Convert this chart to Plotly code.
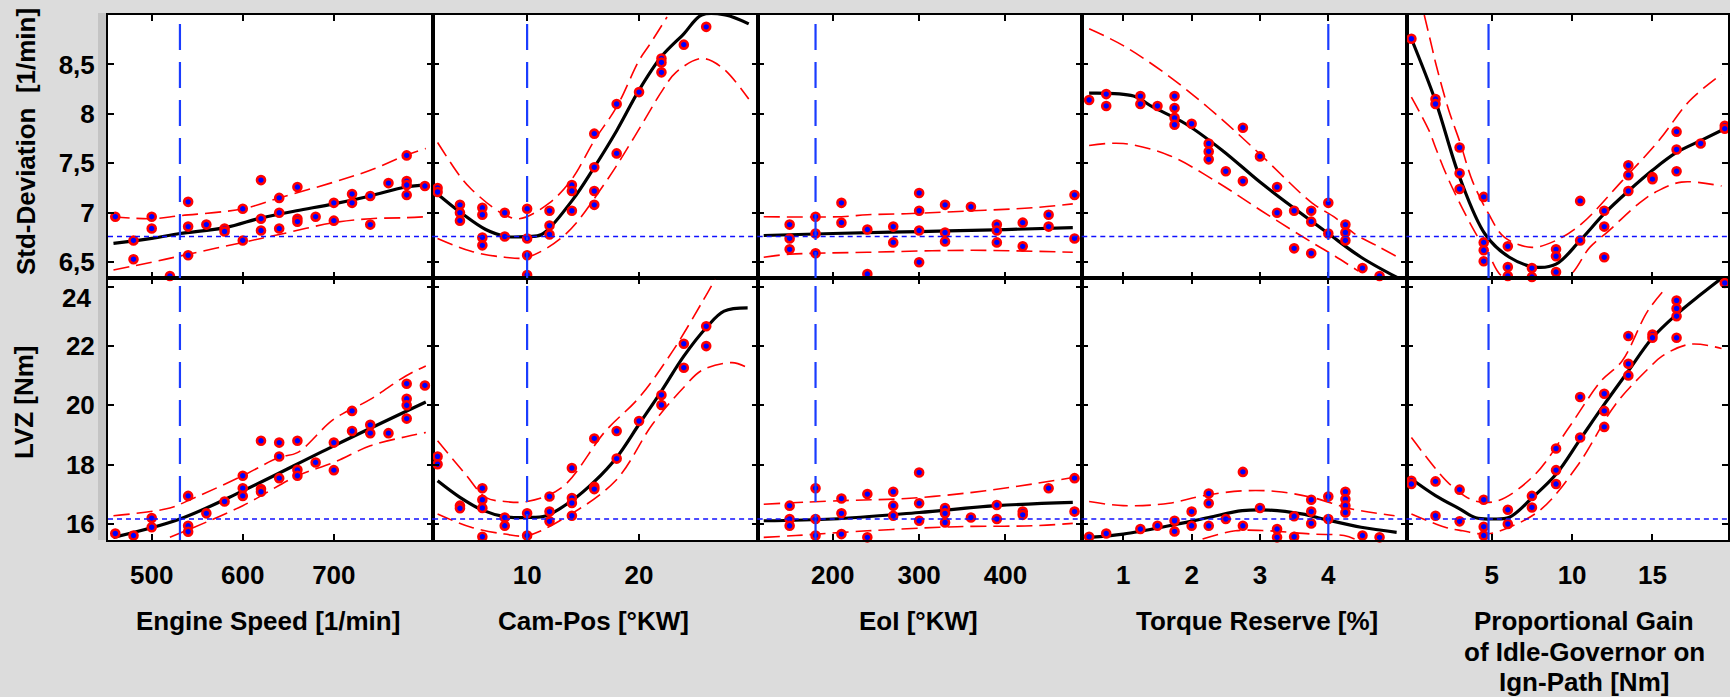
import plotly.graph_objects as go

# ---------------- data ----------------
# Column 1: Engine Speed [1/min]
speed_std_x = [460,480,480,500,500,520,540,540,540,560,580,580,600,600,620,620,620,640,640,640,660,660,660,680,700,700,720,720,740,740,760,780,780,780,780,800]
speed_std_y = [6.96,6.72,6.53,6.96,6.84,6.36,7.11,6.86,6.57,6.88,6.84,6.81,7.04,6.72,7.33,6.94,6.82,7.15,7.0,6.84,7.26,6.94,6.91,6.96,7.10,6.92,7.19,7.10,7.17,6.88,7.30,7.58,7.32,7.28,7.18,7.27]
speed_std_fit_x = [458,500,531,581,621,659,700,740,779,801]
speed_std_fit_y = [6.69,6.74,6.79,6.85,6.95,7.02,7.09,7.17,7.26,7.28]
speed_std_up_x = [458,500,531,600,640,700,740,779,801]
speed_std_up_y = [6.96,6.94,6.97,7.04,7.15,7.31,7.43,7.58,7.65]
speed_std_lo_x = [458,500,540,600,640,700,740,779,801]
speed_std_lo_y = [6.42,6.50,6.58,6.70,6.78,6.90,6.94,6.95,6.96]

speed_lvz_x = [460,480,500,500,540,540,540,560,580,600,600,600,620,620,620,640,640,640,660,660,660,680,700,700,720,720,740,740,760,780,780,780,780,800]
speed_lvz_y = [15.67,15.6,16.19,15.88,16.94,15.93,15.73,16.35,16.75,17.62,17.2,16.94,18.8,17.17,17.08,18.74,18.27,17.54,18.8,17.82,17.62,18.07,18.74,17.81,19.81,19.13,19.34,19.06,19.06,20.73,20.22,20.0,19.55,20.67]
speed_lvz_fit_x = [458,531,600,700,801]
speed_lvz_fit_y = [15.54,16.16,17.11,18.63,20.11]
speed_lvz_up_x = [458,520,540,600,640,660,700,740,779,801]
speed_lvz_up_y = [16.27,16.53,16.78,17.62,18.24,18.4,19.53,20.2,20.99,21.33]
speed_lvz_lo_x = [520,600,660,700,740,779,801]
speed_lvz_lo_y = [15.54,16.61,17.62,18.07,18.63,18.94,19.08]

# Column 2: Cam-Pos [°KW]
cam_std_x = [2,2,4,4,4,6,6,6,6,8,8,10,10,10,10,12,12,12,14,14,14,16,16,16,16,18,18,20,22,22,22,24,26]
cam_std_y = [7.25,7.21,7.08,7.0,6.92,7.05,6.98,6.75,6.67,7.0,6.76,7.04,6.74,6.57,6.37,7.02,6.87,6.78,7.28,7.22,7.02,7.80,7.46,7.22,7.08,8.10,7.6,8.22,8.56,8.52,8.42,8.70,8.88]
cam_std_fit_x = [2.1,4.2,6.3,8.1,10,11.3,14,16,18,20,22,24,25.6,27.7,29.8]
cam_std_fit_y = [7.18,6.99,6.83,6.76,6.76,6.78,7.12,7.46,7.83,8.24,8.58,8.81,9.0,9.0,8.91]
cam_std_up_x = [2,4,5,7.8,9.3,12,14,16,18,20,21,22.5]
cam_std_up_y = [7.71,7.37,7.24,6.99,6.94,7.10,7.34,7.73,8.07,8.54,8.71,8.98]
cam_std_lo_x = [2,5,8,10,13.4,16.9,19.6,22.1,23.3,25.6,27.4,29.8]
cam_std_lo_y = [6.74,6.61,6.55,6.55,6.78,7.29,7.77,8.24,8.42,8.56,8.47,8.15]

cam_lvz_x = [2,2,4,4,6,6,6,6,8,8,10,10,12,12,12,14,14,14,14,16,16,16,18,18,20,22,22,24,24,26,26]
cam_lvz_y = [18.27,18.01,16.61,16.52,17.2,16.81,16.53,15.56,16.21,15.93,16.35,15.6,16.92,16.41,16.08,17.88,16.87,16.7,16.27,18.88,17.25,17.17,19.13,18.2,19.47,20.35,20.01,22.08,21.27,22.67,22.0]
cam_lvz_fit_x = [2,4,6,8,10,11.7,14,16,18,20,22,24,26,27.6,29.7]
cam_lvz_fit_y = [17.45,16.89,16.46,16.24,16.21,16.27,16.78,17.42,18.24,19.36,20.48,21.66,22.62,23.18,23.29]
cam_lvz_up_x = [2,4.5,6.3,8,10,13.1,17,20,23,25.6,26.8]
cam_lvz_up_y = [18.8,17.67,16.89,16.75,16.75,17.22,19.13,20.26,21.83,23.46,24.26]
cam_lvz_lo_x = [2,5,8,10,13.4,17.9,21.2,24.1,25.6,28.3,29.7]
cam_lvz_lo_y = [16.33,15.88,15.65,15.6,16.21,17.45,19.36,20.65,21.18,21.44,21.27]

# Column 3: EoI [°KW]
eoi_std_x = [150,150,150,180,180,180,210,210,240,240,270,270,300,300,300,300,330,330,330,360,390,390,390,420,420,450,450,480,480]
eoi_std_y = [6.88,6.74,6.63,6.96,6.79,6.59,7.10,6.9,6.83,6.38,6.86,6.70,7.2,7.02,6.82,6.5,7.08,6.8,6.71,7.06,6.88,6.82,6.70,6.90,6.66,6.98,6.86,7.18,6.74]
eoi_std_fit_x = [120,200,300,400,478]
eoi_std_fit_y = [6.77,6.79,6.81,6.83,6.85]
eoi_std_up_x = [120,210,240,285,362,431,478]
eoi_std_up_y = [6.96,6.96,6.98,6.99,7.02,7.05,7.09]
eoi_std_lo_x = [120,150,240,362,478]
eoi_std_lo_y = [6.55,6.58,6.60,6.62,6.60]

eoi_lvz_x = [150,150,150,180,180,180,210,210,210,240,240,270,270,270,300,300,300,330,330,330,360,390,390,420,420,450,480,480]
eoi_lvz_y = [16.61,16.16,15.93,17.2,16.16,15.6,16.85,16.35,15.65,17.0,15.54,17.08,16.61,16.27,17.73,16.69,16.1,16.53,16.35,16.04,16.21,16.63,16.16,16.41,16.3,17.2,17.54,16.41]
eoi_lvz_fit_x = [120,200,300,390,478]
eoi_lvz_fit_y = [16.1,16.16,16.38,16.61,16.72]
eoi_lvz_up_x = [120,210,285,362,431,478]
eoi_lvz_up_y = [16.66,16.78,16.85,17.06,17.34,17.56]
eoi_lvz_lo_x = [120,157,240,324,362,431,478]
eoi_lvz_lo_y = [15.54,15.6,15.76,15.88,15.91,15.93,16.01]

# Column 4: Torque Reserve [%]
trq_std_x = [0.5,0.75,0.75,1.25,1.25,1.5,1.75,1.75,1.75,1.75,2.0,2.25,2.25,2.25,2.5,2.75,2.75,3.0,3.25,3.25,3.5,3.5,3.75,3.75,3.75,4.0,4.0,4.25,4.25,4.25,4.5,4.75]
trq_std_y = [8.14,8.20,8.08,8.18,8.10,8.08,8.18,8.06,7.96,7.89,7.90,7.70,7.62,7.54,7.42,7.86,7.32,7.57,7.26,7.0,7.02,6.64,7.02,6.91,6.59,7.10,6.79,6.88,6.80,6.72,6.44,6.36]
trq_std_fit_x = [0.5,1.15,1.43,1.91,2.45,3.0,3.51,4.0,4.48,5.02]
trq_std_fit_y = [8.21,8.18,8.07,7.90,7.63,7.31,7.04,6.79,6.55,6.34]
trq_std_up_x = [0.5,1.0,1.67,2.35,3.02,3.76,4.1,4.4,4.7,5.02]
trq_std_up_y = [8.86,8.69,8.38,8.0,7.58,7.10,6.95,6.78,6.67,6.55]
trq_std_lo_x = [0.5,1.0,1.67,2.35,3.02,3.76,4.1,4.44]
trq_std_lo_y = [7.68,7.70,7.58,7.32,7.02,6.70,6.56,6.41]

trq_lvz_x = [0.5,0.75,1.25,1.5,1.75,1.75,2.0,2.0,2.25,2.25,2.25,2.5,2.75,2.75,3.0,3.25,3.25,3.5,3.5,3.75,3.75,3.75,4.0,4.0,4.25,4.25,4.25,4.25,4.5,4.75]
trq_lvz_y = [15.56,15.67,15.82,15.93,16.1,15.74,16.41,15.93,17.02,16.69,15.93,16.16,17.75,15.93,16.53,15.82,15.54,16.25,15.56,16.81,16.41,16.01,16.92,16.16,17.08,16.83,16.61,16.38,15.6,15.54]
trq_lvz_fit_x = [0.5,1.0,1.67,2.25,2.74,3.13,3.61,4.0,4.48,5.0]
trq_lvz_fit_y = [15.54,15.65,15.93,16.21,16.44,16.46,16.33,16.12,15.88,15.71]
trq_lvz_up_x = [0.5,1.0,1.67,2.16,2.74,3.24,3.76,4.34,4.97]
trq_lvz_up_y = [16.75,16.61,16.69,16.94,17.11,17.09,16.89,16.5,16.27]
trq_lvz_lo_x = [2.16,2.64,3.13,3.76,4.23,4.42]
trq_lvz_lo_y = [15.48,15.76,15.76,15.65,15.6,15.45]

# Column 5: Proportional Gain of Idle-Governor on Ign-Path [Nm]
gain_std_x = [0,1.5,1.5,3,3,3,4.5,4.5,4.5,4.5,6,6,6,7.5,7.5,9,9,9,10.5,10.5,12,12,12,13.5,13.5,13.5,15,15,16.5,16.5,16.5,18,19.5,19.5]
gain_std_y = [8.76,8.15,8.10,7.66,7.40,7.24,7.16,6.70,6.62,6.51,6.66,6.45,6.36,6.44,6.35,6.63,6.56,6.40,7.12,6.72,7.02,6.86,6.55,7.48,7.38,7.22,7.36,7.34,7.82,7.64,7.42,7.70,7.88,7.85]
gain_std_fit_x = [0,1.5,3,4.6,6.1,7.7,9,10.5,12,13.5,15,16.5,18,19.5]
gain_std_fit_y = [8.76,8.13,7.36,6.78,6.55,6.45,6.48,6.72,6.99,7.22,7.43,7.61,7.73,7.85]
gain_std_up_x = [0.8,1.3,1.5,2.3,3.05,3.8,4.8,5.8,7.5,9,10.6,13.1,15.4,17.3,19.3]
gain_std_up_y = [9.0,8.66,8.52,8.05,7.7,7.32,6.99,6.75,6.65,6.72,6.89,7.32,7.73,8.13,8.4]
gain_std_lo_x = [0,1.1,1.5,2.3,3.8,4.8,5.8,9.6,11.1,12.3,14.2,15.2,16.8,19.3]
gain_std_lo_y = [8.17,7.83,7.66,7.34,6.85,6.58,6.34,6.34,6.65,6.82,7.10,7.21,7.31,7.27]

gain_lvz_x = [0,0,1.5,1.5,3,3,4.5,4.5,4.5,6,6,7.5,7.5,9,9,9,10.5,10.5,12,12,12,13.5,13.5,13.5,15,15,16.5,16.5,16.5,16.5,19.5]
gain_lvz_y = [17.45,17.34,17.43,16.27,17.15,16.08,16.81,15.9,15.6,16.47,15.99,16.94,16.55,18.54,17.81,17.34,20.28,18.91,20.39,19.81,19.27,22.34,21.4,21.01,22.39,22.28,23.54,23.27,23.01,22.28,24.13]
gain_lvz_fit_x = [0,1.5,3,4,5,6.1,7.5,9,10.5,12,13.5,15,16.5,18,19.2]
gain_lvz_fit_y = [17.51,16.95,16.5,16.2,16.16,16.22,16.87,17.67,18.85,20.03,21.16,22.28,23.07,23.74,24.25]
gain_lvz_up_x = [0,1.7,2.5,3.9,5.4,7.7,9.8,11.8,13.1,14.7,15.9]
gain_lvz_up_y = [18.91,17.73,17.28,16.78,16.78,17.67,19.25,20.82,21.49,23.18,24.0]
gain_lvz_lo_x = [0,2.1,3.2,4.6,6.1,8.1,10.4,12.7,14.8,15.6,17.3,19.3]
gain_lvz_lo_y = [16.33,15.88,15.76,15.65,15.88,16.5,18.01,20.03,21.27,21.66,22.06,21.92]

# axes / labels
x_titles = [["Engine Speed [1/min]"], ["Cam-Pos [°KW]"], ["EoI [°KW]"], ["Torque Reserve [%]"],
            ["Proportional Gain", "of Idle-Governor on", "Ign-Path [Nm]"]]
y_titles = ["Std-Deviation\u00a0 [1/min]", "LVZ [Nm]"]
x_ranges = [[452, 809], [1.6, 30.6], [113, 489], [0.40, 5.15], [-0.28, 19.7]]
x_ticks = [[500, 600, 700], [10, 20], [200, 300, 400], [1, 2, 3, 4], [5, 10, 15]]
y_ranges = [[6.34, 9.0], [15.45, 24.3]]
y_tickvals = [[6.5, 7, 7.5, 8, 8.5], [16, 18, 20, 22, 24]]
y_ticktext = [["6,5", "7", "7,5", "8", "8,5"], ["16", "18", "20", "22", "24"]]
setting_x = [531, 10, 180, 4.0, 4.8]      # vertical dashed reference
optimum_y = [6.76, 16.16]                 # horizontal dotted reference

panels = [
    [(speed_std_x, speed_std_y, speed_std_fit_x, speed_std_fit_y, speed_std_up_x, speed_std_up_y, speed_std_lo_x, speed_std_lo_y),
     (cam_std_x, cam_std_y, cam_std_fit_x, cam_std_fit_y, cam_std_up_x, cam_std_up_y, cam_std_lo_x, cam_std_lo_y),
     (eoi_std_x, eoi_std_y, eoi_std_fit_x, eoi_std_fit_y, eoi_std_up_x, eoi_std_up_y, eoi_std_lo_x, eoi_std_lo_y),
     (trq_std_x, trq_std_y, trq_std_fit_x, trq_std_fit_y, trq_std_up_x, trq_std_up_y, trq_std_lo_x, trq_std_lo_y),
     (gain_std_x, gain_std_y, gain_std_fit_x, gain_std_fit_y, gain_std_up_x, gain_std_up_y, gain_std_lo_x, gain_std_lo_y)],
    [(speed_lvz_x, speed_lvz_y, speed_lvz_fit_x, speed_lvz_fit_y, speed_lvz_up_x, speed_lvz_up_y, speed_lvz_lo_x, speed_lvz_lo_y),
     (cam_lvz_x, cam_lvz_y, cam_lvz_fit_x, cam_lvz_fit_y, cam_lvz_up_x, cam_lvz_up_y, cam_lvz_lo_x, cam_lvz_lo_y),
     (eoi_lvz_x, eoi_lvz_y, eoi_lvz_fit_x, eoi_lvz_fit_y, eoi_lvz_up_x, eoi_lvz_up_y, eoi_lvz_lo_x, eoi_lvz_lo_y),
     (trq_lvz_x, trq_lvz_y, trq_lvz_fit_x, trq_lvz_fit_y, trq_lvz_up_x, trq_lvz_up_y, trq_lvz_lo_x, trq_lvz_lo_y),
     (gain_lvz_x, gain_lvz_y, gain_lvz_fit_x, gain_lvz_fit_y, gain_lvz_up_x, gain_lvz_up_y, gain_lvz_lo_x, gain_lvz_lo_y)],
]

# ---------------- layout geometry ----------------
W, H = 1730, 697
ML, MT, MB = 108, 15, 157
PW, PH = W - ML, H - MT - MB
col_px = [108, 433.5, 758.5, 1083.5, 1408.5, 1730]
row_split = (540 - 278) / PH

FONT = "Liberation Sans, Arial, sans-serif"
FS = 26
fig = go.Figure()
layout = dict(
    width=W, height=H,
    margin=dict(l=ML, r=0, t=MT, b=MB, pad=0),
    paper_bgcolor="#dcdcdc", plot_bgcolor="white",
    showlegend=False,
    font=dict(family=FONT, size=FS, color="black", weight="bold"),
)
shapes = []
annotations = []

for r in range(2):
    for c in range(5):
        k = r * 5 + c + 1
        sfx = "" if k == 1 else str(k)
        xa, ya = "x" + sfx, "y" + sfx
        px, py, fx, fy, ux, uy, lx, ly = panels[r][c]
        for bx, by in ((ux, uy), (lx, ly)):
            fig.add_trace(go.Scatter(x=bx, y=by, xaxis=xa, yaxis=ya, mode="lines",
                                     line=dict(color="#ff0000", width=1.6, dash="16px,7px", shape="spline"),
                                     hoverinfo="skip"))
        fig.add_trace(go.Scatter(x=fx, y=fy, xaxis=xa, yaxis=ya, mode="lines",
                                 line=dict(color="black", width=3.2, shape="spline")))
        fig.add_trace(go.Scatter(x=px, y=py, xaxis=xa, yaxis=ya, mode="markers", cliponaxis=False,
                                 marker=dict(symbol="circle", size=8, color="#0000ff",
                                             line=dict(color="#ff0000", width=2.6))))
        d0 = (col_px[c] - ML) / PW
        d1 = (col_px[c + 1] - ML) / PW
        ydom = [row_split, 1] if r == 0 else [0, row_split]
        common = dict(showline=True, linecolor="black", linewidth=2, mirror="ticks",
                      ticks="inside", ticklen=6, tickwidth=2, tickcolor="black",
                      showgrid=False, zeroline=False, fixedrange=True)
        # the top label of the lower row sits lower in the reference; drawn as annotation below
        ytext = list(y_ticktext[r])
        if r == 1:
            ytext[-1] = ""
        layout["xaxis" + sfx] = dict(domain=[d0, d1], anchor=ya, range=x_ranges[c],
                                     tickvals=x_ticks[c], showticklabels=(r == 1),
                                     ticklabelstandoff=11,
                                     tickfont=dict(size=FS, family=FONT, weight="bold"), **common)
        layout["yaxis" + sfx] = dict(domain=ydom, anchor=xa, range=y_ranges[r],
                                     tickvals=y_tickvals[r], ticktext=ytext,
                                     showticklabels=(c == 0), ticklabelstandoff=6,
                                     tickfont=dict(size=FS, family=FONT, weight="bold"), **common)
        shapes.append(dict(type="line", xref=xa, yref=ya + " domain", x0=setting_x[c], x1=setting_x[c],
                           y0=0, y1=1, line=dict(color="#1a3cff", width=2.2, dash="26px,12px")))
        shapes.append(dict(type="line", xref=xa + " domain", yref=ya, x0=0, x1=1,
                           y0=optimum_y[r], y1=optimum_y[r], line=dict(color="#1010ff", width=1.6, dash="5px,4px")))

# top tick label of lower row, placed a little below its tick as in the reference
annotations.append(dict(text=y_ticktext[1][-1], xref="paper", yref="paper",
                        x=(93 - ML) / PW, y=(540 - 298) / PH, xanchor="right", yanchor="middle",
                        showarrow=False, font=dict(size=FS, family=FONT, weight="bold", color="black")))

# darker strip along the left and top of the plotting block
strip = "#c4c4c4"
shapes.append(dict(type="rect", xref="paper", yref="paper", x0=-10 / PW, x1=0, y0=0, y1=(540 - 13) / PH,
                   fillcolor=strip, line=dict(width=0), layer="below"))
shapes.append(dict(type="rect", xref="paper", yref="paper", x0=-10 / PW, x1=1, y0=1, y1=(540 - 13) / PH,
                   fillcolor=strip, line=dict(width=0), layer="below"))

# axis titles
x_title_px = [268, 594, 919, 1258, 1586]
line_y = [621, 652, 682]
for c in range(5):
    for i, txt in enumerate(x_titles[c]):
        annotations.append(dict(text=txt, xref="paper", yref="paper",
                                x=(x_title_px[c] - ML) / PW, y=(540 - line_y[i]) / PH,
                                xanchor="center", yanchor="middle", showarrow=False,
                                font=dict(size=FS, family=FONT, weight="bold", color="black")))
y_title_pos = [(26, 142), (24, 402)]
for r in range(2):
    xp, yp = y_title_pos[r]
    annotations.append(dict(text=y_titles[r], xref="paper", yref="paper",
                            x=(xp - ML) / PW, y=(540 - yp) / PH, textangle=-90,
                            xanchor="center", yanchor="middle", showarrow=False,
                            font=dict(size=FS, family=FONT, weight="bold", color="black")))

layout["shapes"] = shapes
layout["annotations"] = annotations
fig.update_layout(**layout)
fig.write_html("out.html", config={"displayModeBar": False},
               post_script="document.body.style.margin='0px';document.body.style.overflow='hidden';")
